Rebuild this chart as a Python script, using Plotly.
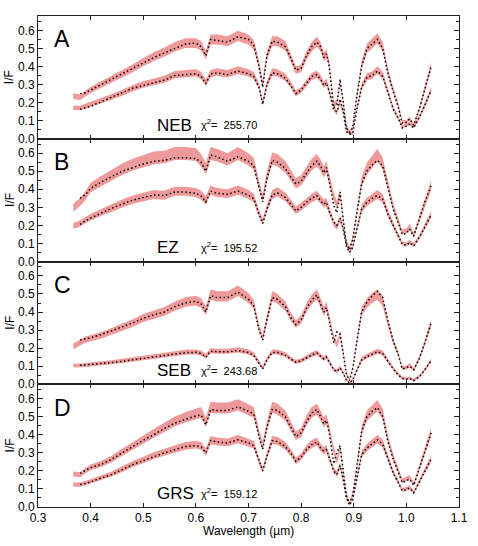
"""
Reflectance spectra (I/F) for four regions: observed bands vs model fits.
"""

import plotly.graph_objects as go
from plotly.subplots import make_subplots


# ── data ──────────────────────────────────────────────────────────
WAVELENGTH = [
    0.367, 0.38, 0.39, 0.40, 0.42, 0.44, 0.46, 0.48, 0.50, 0.52, 0.54, 0.56,
    0.58, 0.60, 0.61, 0.619, 0.628, 0.64, 0.66, 0.68, 0.70, 0.71, 0.72, 0.727, 0.735, 0.745,
    0.755, 0.77, 0.78, 0.79, 0.80, 0.81, 0.82, 0.83, 0.837, 0.843, 0.848, 0.853, 0.862, 0.868, 0.874,
    0.88, 0.886, 0.892, 0.898, 0.905, 0.915, 0.925, 0.935, 0.945, 0.955, 0.965, 0.975, 0.985,
    0.992, 1.0, 1.006, 1.014, 1.025, 1.035, 1.047,
]

# panel A (NEB)
A_UPPER_OBS = [
    0.236, 0.23, 0.25, 0.27, 0.30, 0.33, 0.36, 0.39, 0.425, 0.455, 0.48, 0.51,
    0.53, 0.53, 0.515, 0.463, 0.55, 0.55, 0.54, 0.57, 0.55, 0.52, 0.41, 0.30, 0.46, 0.54,
    0.54, 0.515, 0.45, 0.38, 0.39, 0.46, 0.51, 0.537, 0.51, 0.454, 0.472, 0.417, 0.19, 0.20, 0.31,
    0.205, 0.07, 0.039, 0.06, 0.224, 0.408, 0.50, 0.528, 0.556, 0.51, 0.37, 0.27, 0.18,
    0.094, 0.094, 0.113, 0.076, 0.168, 0.279, 0.40,
]
A_UPPER_MOD = [
    None, 0.25, 0.255, 0.27, 0.30, 0.33, 0.36, 0.39, 0.42, 0.45, 0.475, 0.50,
    0.525, 0.53, 0.51, 0.46, 0.55, 0.545, 0.535, 0.565, 0.55, 0.52, 0.40, 0.285, 0.46, 0.54,
    0.535, 0.51, 0.45, 0.38, 0.39, 0.46, 0.51, 0.535, 0.51, 0.45, 0.47, 0.41, 0.17, 0.19, 0.33,
    0.20, 0.06, 0.035, 0.06, 0.22, 0.40, 0.50, 0.525, 0.55, 0.50, 0.36, 0.26, 0.17,
    0.085, 0.09, 0.11, 0.075, 0.17, 0.28, 0.40,
]
A_LOWER_OBS = [
    0.172, 0.17, 0.18, 0.19, 0.21, 0.232, 0.255, 0.28, 0.30, 0.315, 0.33, 0.355,
    0.36, 0.365, 0.35, 0.31, 0.36, 0.37, 0.36, 0.38, 0.365, 0.35, 0.29, 0.20, 0.30, 0.37,
    0.365, 0.34, 0.30, 0.251, 0.27, 0.31, 0.345, 0.356, 0.334, 0.297, 0.315, 0.27, 0.168, 0.142, 0.205,
    0.15, 0.05, 0.03, 0.03, 0.15, 0.288, 0.343, 0.352, 0.38, 0.352, 0.26, 0.168, 0.113,
    0.066, 0.076, 0.085, 0.066, 0.122, 0.187, 0.27,
]
A_LOWER_MOD = [
    None, 0.163, 0.172, 0.18, 0.205, 0.23, 0.255, 0.28, 0.295, 0.31, 0.325, 0.35,
    0.355, 0.36, 0.345, 0.305, 0.36, 0.365, 0.355, 0.375, 0.36, 0.345, 0.285, 0.19, 0.30, 0.365,
    0.36, 0.335, 0.295, 0.25, 0.27, 0.31, 0.345, 0.355, 0.33, 0.295, 0.31, 0.265, 0.16, 0.15, 0.22,
    0.15, 0.04, 0.025, 0.03, 0.15, 0.285, 0.34, 0.35, 0.375, 0.345, 0.255, 0.165, 0.11,
    0.06, 0.07, 0.08, 0.06, 0.12, 0.185, 0.27,
]

# panel B (EZ)
B_UPPER_OBS = [
    0.297, 0.33, 0.363, 0.41, 0.445, 0.478, 0.511, 0.537, 0.555, 0.574, 0.579, 0.598,
    0.598, 0.592, 0.561, 0.515, 0.598, 0.589, 0.566, 0.598, 0.566, 0.542, 0.422, 0.349, 0.469, 0.57,
    0.561, 0.524, 0.478, 0.432, 0.45, 0.496, 0.537, 0.561, 0.533, 0.496, 0.524, 0.459, 0.358, 0.312, 0.376,
    0.238, 0.109, 0.072, 0.127, 0.256, 0.441, 0.515, 0.552, 0.589, 0.542, 0.422, 0.303, 0.22,
    0.164, 0.168, 0.192, 0.146, 0.238, 0.33, 0.422,
]
B_UPPER_MOD = [
    None, 0.35, 0.37, 0.405, 0.44, 0.47, 0.50, 0.52, 0.54, 0.555, 0.56, 0.575,
    0.575, 0.57, 0.55, 0.50, 0.59, 0.58, 0.555, 0.58, 0.555, 0.53, 0.41, 0.33, 0.46, 0.56,
    0.55, 0.515, 0.47, 0.43, 0.445, 0.49, 0.53, 0.555, 0.53, 0.49, 0.52, 0.45, 0.31, 0.27, 0.385,
    0.23, 0.10, 0.065, 0.12, 0.25, 0.43, 0.50, 0.535, 0.56, 0.53, 0.41, 0.29, 0.21,
    0.15, 0.155, 0.18, 0.14, 0.235, 0.33, 0.42,
]
B_LOWER_OBS = [
    0.197, 0.21, 0.229, 0.245, 0.271, 0.297, 0.321, 0.343, 0.358, 0.371, 0.367, 0.389,
    0.389, 0.382, 0.367, 0.339, 0.395, 0.382, 0.376, 0.395, 0.371, 0.352, 0.266, 0.22, 0.293, 0.371,
    0.386, 0.358, 0.321, 0.284, 0.303, 0.33, 0.352, 0.367, 0.339, 0.321, 0.33, 0.284, 0.21, 0.192, 0.238,
    0.183, 0.09, 0.054, 0.081, 0.173, 0.293, 0.33, 0.352, 0.371, 0.349, 0.266, 0.201, 0.146,
    0.10, 0.094, 0.109, 0.09, 0.137, 0.192, 0.26,
]
B_LOWER_MOD = [
    None, 0.205, 0.225, 0.24, 0.268, 0.295, 0.318, 0.34, 0.355, 0.368, 0.365, 0.385,
    0.385, 0.378, 0.362, 0.33, 0.39, 0.378, 0.372, 0.39, 0.368, 0.348, 0.26, 0.21, 0.29, 0.368,
    0.38, 0.355, 0.318, 0.28, 0.30, 0.328, 0.35, 0.365, 0.335, 0.318, 0.328, 0.28, 0.22, 0.20, 0.24,
    0.18, 0.085, 0.05, 0.078, 0.17, 0.29, 0.328, 0.35, 0.365, 0.345, 0.262, 0.198, 0.142,
    0.095, 0.09, 0.105, 0.087, 0.135, 0.19, 0.258,
]

# panel C (SEB)
C_UPPER_OBS = [
    0.21, 0.229, 0.247, 0.256, 0.271, 0.293, 0.316, 0.339, 0.367, 0.386, 0.404, 0.432,
    0.456, 0.463, 0.45, 0.408, 0.496, 0.487, 0.487, 0.518, 0.478, 0.441, 0.312, 0.256, 0.367, 0.487,
    0.474, 0.432, 0.376, 0.334, 0.358, 0.423, 0.469, 0.496, 0.45, 0.404, 0.432, 0.367, 0.256, 0.22, 0.275,
    0.173, 0.063, 0.026, 0.09, 0.22, 0.404, 0.45, 0.478, 0.496, 0.459, 0.339, 0.238, 0.164,
    0.09, 0.094, 0.105, 0.081, 0.146, 0.229, 0.339,
]
C_UPPER_MOD = [
    None, 0.245, 0.25, 0.258, 0.275, 0.295, 0.318, 0.34, 0.365, 0.385, 0.40, 0.43,
    0.45, 0.46, 0.445, 0.40, 0.49, 0.48, 0.48, 0.51, 0.47, 0.435, 0.30, 0.245, 0.36, 0.48,
    0.47, 0.43, 0.37, 0.33, 0.355, 0.42, 0.465, 0.495, 0.445, 0.40, 0.425, 0.36, 0.23, 0.29, 0.28,
    0.17, 0.055, 0.02, 0.085, 0.22, 0.40, 0.455, 0.49, 0.515, 0.48, 0.35, 0.24, 0.16,
    0.085, 0.09, 0.10, 0.08, 0.145, 0.23, 0.34,
]
C_LOWER_OBS = [
    0.103, 0.103, 0.106, 0.109, 0.114, 0.122, 0.129, 0.137, 0.146, 0.155, 0.164, 0.172,
    0.177, 0.179, 0.173, 0.155, 0.186, 0.183, 0.183, 0.19, 0.179, 0.164, 0.118, 0.09, 0.137, 0.179,
    0.179, 0.164, 0.142, 0.124, 0.131, 0.149, 0.164, 0.175, 0.157, 0.142, 0.153, 0.127, 0.081, 0.072, 0.094,
    0.063, 0.026, 0.007, 0.026, 0.072, 0.137, 0.155, 0.168, 0.183, 0.173, 0.127, 0.087, 0.054,
    0.035, 0.031, 0.035, 0.022, 0.044, 0.081, 0.131,
]
C_LOWER_MOD = [
    None, 0.105, 0.107, 0.109, 0.113, 0.12, 0.127, 0.135, 0.144, 0.153, 0.162, 0.17,
    0.175, 0.177, 0.17, 0.15, 0.183, 0.18, 0.18, 0.187, 0.176, 0.16, 0.112, 0.085, 0.135, 0.176,
    0.176, 0.16, 0.14, 0.122, 0.13, 0.147, 0.162, 0.173, 0.155, 0.14, 0.15, 0.125, 0.08, 0.07, 0.09,
    0.06, 0.022, 0.004, 0.022, 0.07, 0.135, 0.153, 0.166, 0.18, 0.17, 0.124, 0.084, 0.05,
    0.032, 0.028, 0.032, 0.02, 0.042, 0.08, 0.13,
]

# panel D (GRS)
D_UPPER_OBS = [
    0.183, 0.179, 0.201, 0.22, 0.238, 0.266, 0.303, 0.339, 0.376, 0.408, 0.441, 0.474,
    0.496, 0.515, 0.524, 0.469, 0.552, 0.548, 0.548, 0.566, 0.537, 0.524, 0.404, 0.339, 0.45, 0.552,
    0.542, 0.506, 0.45, 0.395, 0.413, 0.478, 0.524, 0.542, 0.506, 0.469, 0.487, 0.432, 0.312, 0.256, 0.33,
    0.201, 0.072, 0.026, 0.072, 0.201, 0.423, 0.506, 0.533, 0.561, 0.515, 0.376, 0.275, 0.201,
    0.146, 0.155, 0.164, 0.127, 0.22, 0.312, 0.413,
]
D_UPPER_MOD = [
    None, 0.186, 0.2, 0.218, 0.236, 0.264, 0.30, 0.335, 0.37, 0.40, 0.435, 0.465,
    0.485, 0.505, 0.51, 0.455, 0.54, 0.535, 0.535, 0.555, 0.53, 0.515, 0.39, 0.32, 0.44, 0.54,
    0.535, 0.50, 0.445, 0.39, 0.41, 0.47, 0.52, 0.54, 0.50, 0.46, 0.48, 0.42, 0.24, 0.30, 0.34,
    0.19, 0.06, 0.02, 0.065, 0.20, 0.42, 0.50, 0.53, 0.55, 0.50, 0.36, 0.265, 0.19,
    0.135, 0.145, 0.155, 0.12, 0.215, 0.31, 0.41,
]
D_LOWER_OBS = [
    0.124, 0.124, 0.132, 0.142, 0.161, 0.183, 0.21, 0.238, 0.26, 0.284, 0.303, 0.321,
    0.339, 0.345, 0.339, 0.303, 0.371, 0.363, 0.358, 0.376, 0.358, 0.345, 0.256, 0.205, 0.284, 0.371,
    0.367, 0.339, 0.303, 0.256, 0.279, 0.321, 0.349, 0.363, 0.33, 0.312, 0.321, 0.279, 0.201, 0.183, 0.229,
    0.155, 0.054, 0.013, 0.044, 0.146, 0.293, 0.33, 0.352, 0.376, 0.352, 0.266, 0.192, 0.137,
    0.094, 0.10, 0.109, 0.081, 0.146, 0.201, 0.266,
]
D_LOWER_MOD = [
    None, 0.125, 0.13, 0.14, 0.158, 0.18, 0.207, 0.235, 0.257, 0.28, 0.30, 0.318,
    0.335, 0.34, 0.333, 0.30, 0.368, 0.36, 0.355, 0.372, 0.355, 0.34, 0.25, 0.2, 0.28, 0.368,
    0.362, 0.335, 0.30, 0.253, 0.276, 0.318, 0.346, 0.36, 0.327, 0.31, 0.318, 0.275, 0.2, 0.18, 0.23,
    0.15, 0.05, 0.01, 0.04, 0.143, 0.29, 0.327, 0.35, 0.372, 0.348, 0.262, 0.188, 0.133,
    0.09, 0.096, 0.105, 0.078, 0.143, 0.2, 0.265,
]

PANEL_LETTERS = ["A", "B", "C", "D"]
REGIONS = ["NEB", "EZ", "SEB", "GRS"]
CHI2 = ["255.70", "195.52", "243.68", "159.12"]
REL_ERR = [0.04, 0.05, 0.045, 0.045]   # fractional uncertainty of the observed I/F
ABS_ERR = 0.006

PANELS = [
    (A_UPPER_OBS, A_UPPER_MOD, A_LOWER_OBS, A_LOWER_MOD),
    (B_UPPER_OBS, B_UPPER_MOD, B_LOWER_OBS, B_LOWER_MOD),
    (C_UPPER_OBS, C_UPPER_MOD, C_LOWER_OBS, C_LOWER_MOD),
    (D_UPPER_OBS, D_UPPER_MOD, D_LOWER_OBS, D_LOWER_MOD),
]

# ── style ─────────────────────────────────────────────────────────
BAND = "#EF9A9A"
AXIS = "#222222"
FONT = "Liberation Sans, Arial, sans-serif"

fig = make_subplots(rows=4, cols=1, shared_xaxes=True, vertical_spacing=0)

for i, (up_obs, up_mod, lo_obs, lo_mod) in enumerate(PANELS):
    row = i + 1
    for obs in (up_obs, lo_obs):
        sig = [ABS_ERR + REL_ERR[i] * v for v in obs]
        fig.add_trace(go.Scatter(
            x=WAVELENGTH, y=[v - s for v, s in zip(obs, sig)],
            mode="lines", line=dict(width=0, color=BAND),
            showlegend=False, hoverinfo="skip"
        ), row=row, col=1)
        fig.add_trace(go.Scatter(
            x=WAVELENGTH, y=[v + s for v, s in zip(obs, sig)],
            mode="lines", line=dict(width=0, color=BAND),
            fill="tonexty", fillcolor=BAND,
            showlegend=False, hoverinfo="skip"
        ), row=row, col=1)
    for mod in (up_mod, lo_mod):
        fig.add_trace(go.Scatter(
            x=WAVELENGTH, y=mod, mode="lines",
            line=dict(color="black", width=1.5, dash="1.5px,2.5px"),
            showlegend=False
        ), row=row, col=1)

    xref = "x" if row == 1 else f"x{row}"
    yref = "y" if row == 1 else f"y{row}"
    fig.add_annotation(x=0.326, y=0.55, xref=xref, yref=yref, text=PANEL_LETTERS[i],
                       showarrow=False, xanchor="left", yanchor="middle",
                       font=dict(size=23, color="black"))
    fig.add_annotation(x=0.522, y=0.076, xref=xref, yref=yref, text=REGIONS[i],
                       showarrow=False, xanchor="left", yanchor="middle",
                       font=dict(size=17, color="black"))
    fig.add_annotation(x=0.606, y=0.08, xref=xref, yref=yref,
                       text=f"χ<sup>2</sup>=  {CHI2[i]}",
                       showarrow=False, xanchor="left", yanchor="middle",
                       font=dict(size=11, color="black"))
    fig.add_annotation(x=-0.067, y=0.5, xref="paper", yref=f"{yref} domain",
                       text="I/F", textangle=-90, showarrow=False,
                       xanchor="center", yanchor="middle",
                       font=dict(size=12, color="black"))

    fig.update_yaxes(
        range=[0, 0.68], tick0=0, dtick=0.1, tickformat=".1f",
        ticks="inside", ticklen=5, tickcolor=AXIS,
        minor=dict(ticks="inside", dtick=0.05, ticklen=3, tickcolor=AXIS),
        showline=True, linecolor=AXIS, linewidth=1, mirror="ticks",
        showgrid=False, zeroline=False,
        tickfont=dict(size=12, color="black"),
        row=row, col=1
    )
    fig.update_xaxes(
        range=[0.3, 1.1], tick0=0.3, dtick=0.1, tickformat=".1f",
        ticks="inside", ticklen=4, tickcolor=AXIS,
        showline=True, linecolor=AXIS, linewidth=1, mirror="ticks",
        showgrid=False, zeroline=False,
        tickfont=dict(size=12, color="black"),
        row=row, col=1
    )

fig.add_annotation(x=0.5, y=-0.049, xref="paper", yref="paper",
                   text="Wavelength (µm)", showarrow=False,
                   xanchor="center", yanchor="middle",
                   font=dict(size=12, color="black"))

fig.update_layout(
    width=478, height=546,
    margin=dict(l=38, r=10, t=16, b=39),
    paper_bgcolor="white", plot_bgcolor="white",
    font=dict(family=FONT, color="black"),
    showlegend=False
)

# page body margin would shift the fixed-size figure off the window
fig.write_html("out.html", config={"displayModeBar": False},
               post_script="document.body.style.margin='0';")
